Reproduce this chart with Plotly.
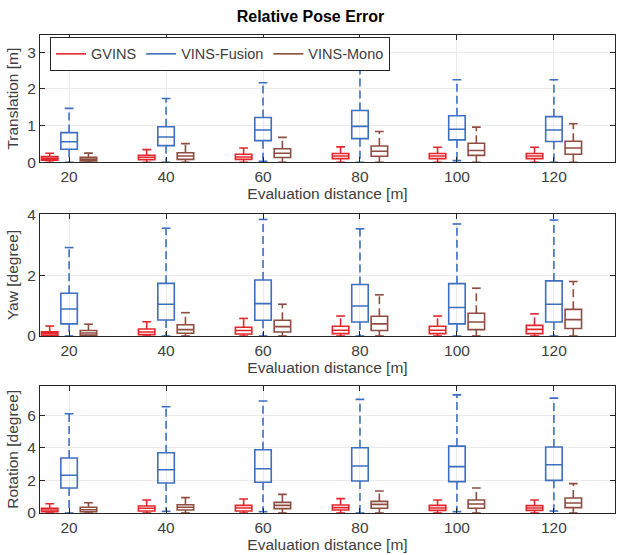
import plotly.graph_objects as go

distances = [20, 40, 60, 80, 100, 120]
methods = ["GVINS", "VINS-Fusion", "VINS-Mono"]
colors = {"GVINS": "#e3262b", "VINS-Fusion": "#3c6fc0", "VINS-Mono": "#8e4d40"}
offsets = {"GVINS": -4.0, "VINS-Fusion": 0.0, "VINS-Mono": 4.0}

# Translation [m]
trans_q1 = {"GVINS": [0.055, 0.07, 0.08, 0.10, 0.10, 0.10],
            "VINS-Fusion": [0.355, 0.455, 0.59, 0.645, 0.61, 0.565],
            "VINS-Mono": [0.035, 0.08, 0.13, 0.165, 0.19, 0.22]}
trans_med = {"GVINS": [0.10, 0.13, 0.145, 0.17, 0.17, 0.17],
             "VINS-Fusion": [0.56, 0.69, 0.88, 0.98, 0.90, 0.88],
             "VINS-Mono": [0.08, 0.17, 0.245, 0.30, 0.32, 0.39]}
trans_q3 = {"GVINS": [0.155, 0.19, 0.22, 0.24, 0.24, 0.24],
            "VINS-Fusion": [0.81, 0.97, 1.22, 1.41, 1.27, 1.245],
            "VINS-Mono": [0.135, 0.26, 0.37, 0.445, 0.52, 0.575]}
trans_lo = {"GVINS": [0.0, 0.0, 0.0, 0.0, 0.0, 0.0],
            "VINS-Fusion": [0.0, 0.0, 0.03, 0.0, 0.045, 0.0],
            "VINS-Mono": [0.0, 0.0, 0.0, 0.0, 0.0, 0.0]}
trans_hi = {"GVINS": [0.245, 0.345, 0.39, 0.42, 0.41, 0.41],
            "VINS-Fusion": [1.47, 1.74, 2.17, 2.53, 2.25, 2.25],
            "VINS-Mono": [0.25, 0.51, 0.68, 0.84, 0.96, 1.05]}

# Yaw [degree]
yaw_q1 = {"GVINS": [0.03, 0.045, 0.066, 0.08, 0.08, 0.08],
          "VINS-Fusion": [0.40, 0.53, 0.52, 0.46, 0.40, 0.46],
          "VINS-Mono": [0.03, 0.09, 0.13, 0.18, 0.21, 0.25]}
yaw_med = {"GVINS": [0.09, 0.13, 0.18, 0.19, 0.19, 0.22],
           "VINS-Fusion": [0.89, 1.05, 1.07, 0.99, 0.94, 1.05],
           "VINS-Mono": [0.10, 0.21, 0.31, 0.40, 0.46, 0.54]}
yaw_q3 = {"GVINS": [0.14, 0.23, 0.29, 0.32, 0.32, 0.35],
          "VINS-Fusion": [1.41, 1.74, 1.85, 1.70, 1.73, 1.82],
          "VINS-Mono": [0.18, 0.37, 0.52, 0.65, 0.75, 0.88]}
yaw_lo = {"GVINS": [0.0, 0.0, 0.0, 0.0, 0.0, 0.0],
          "VINS-Fusion": [0.0, 0.0, 0.0, 0.0, 0.0, 0.0],
          "VINS-Mono": [0.0, 0.0, 0.0, 0.0, 0.0, 0.0]}
yaw_hi = {"GVINS": [0.33, 0.47, 0.58, 0.66, 0.66, 0.73],
          "VINS-Fusion": [2.92, 3.56, 3.85, 3.54, 3.70, 3.83],
          "VINS-Mono": [0.39, 0.77, 1.05, 1.36, 1.58, 1.80]}

# Rotation [degree]
rot_q1 = {"GVINS": [0.08, 0.12, 0.12, 0.18, 0.16, 0.16],
          "VINS-Fusion": [1.53, 1.84, 1.88, 1.96, 1.92, 2.00],
          "VINS-Mono": [0.08, 0.18, 0.27, 0.29, 0.29, 0.33]}
rot_med = {"GVINS": [0.18, 0.29, 0.31, 0.33, 0.31, 0.31],
           "VINS-Fusion": [2.31, 2.65, 2.71, 2.88, 2.84, 2.96],
           "VINS-Mono": [0.20, 0.35, 0.47, 0.53, 0.55, 0.61]}
rot_q3 = {"GVINS": [0.29, 0.43, 0.47, 0.49, 0.47, 0.45],
          "VINS-Fusion": [3.37, 3.69, 3.88, 4.00, 4.10, 4.04],
          "VINS-Mono": [0.35, 0.51, 0.65, 0.71, 0.80, 0.92]}
rot_lo = {"GVINS": [0.0, 0.0, 0.0, 0.0, 0.0, 0.0],
          "VINS-Fusion": [0.0, 0.10, 0.08, 0.0, 0.08, 0.12],
          "VINS-Mono": [0.0, 0.0, 0.0, 0.0, 0.0, 0.0]}
rot_hi = {"GVINS": [0.57, 0.80, 0.86, 0.88, 0.80, 0.80],
          "VINS-Fusion": [6.08, 6.51, 6.86, 6.96, 7.24, 7.04],
          "VINS-Mono": [0.63, 0.94, 1.14, 1.35, 1.53, 1.80]}

panels = [
    ("Translation [m]", trans_q1, trans_med, trans_q3, trans_lo, trans_hi, [0, 1, 2, 3], [0, 3.47]),
    ("Yaw [degree]", yaw_q1, yaw_med, yaw_q3, yaw_lo, yaw_hi, [0, 2, 4], [0, 4.03]),
    ("Rotation [degree]", rot_q1, rot_med, rot_q3, rot_lo, rot_hi, [0, 2, 4, 6], [0, 7.8]),
]
x_title = "Evaluation distance [m]"
title_text = "Relative Pose Error"

BOX_W = 3.4
CAP_W = 1.8
LW = 1.6
FONT = "Liberation Sans, Arial, Helvetica, sans-serif"
FS = 15.5
TXT = "#404040"
AX = "#262626"
GRID = "#ebebeb"

fig = go.Figure()

H = 555
top_px, bot_px = 35, 513
span = bot_px - top_px
panel_px = [(35, 162.3), (214, 336), (385.7, 513)]
domains = [[1 - (b - top_px) / span, 1 - (t - top_px) / span] for t, b in panel_px]

for i, (ylab, q1, med, q3, lo, hi, yticks, yr) in enumerate(panels):
    xa = "x" if i == 0 else f"x{i+1}"
    ya = "y" if i == 0 else f"y{i+1}"
    for m in methods:
        pos = [d + offsets[m] for d in distances]
        c = colors[m]
        wx, wy = [], []
        for k, p in enumerate(pos):
            wx += [p, p, None, p, p, None]
            wy += [q3[m][k], hi[m][k], None, q1[m][k], lo[m][k], None]
        fig.add_trace(go.Scatter(x=wx, y=wy, mode="lines", xaxis=xa, yaxis=ya,
                                 line=dict(color=c, width=LW, dash="8px,4px"),
                                 showlegend=False, hoverinfo="skip"))
        cx, cy = [], []
        for k, p in enumerate(pos):
            for v in (hi[m][k], lo[m][k]):
                cx += [p - CAP_W / 2, p + CAP_W / 2, None]
                cy += [v, v, None]
        fig.add_trace(go.Scatter(x=cx, y=cy, mode="lines", xaxis=xa, yaxis=ya,
                                 line=dict(color=c, width=LW),
                                 showlegend=False, hoverinfo="skip"))
        fig.add_trace(go.Box(x=pos, q1=q1[m], median=med[m], q3=q3[m],
                             lowerfence=q1[m], upperfence=q3[m],
                             xaxis=xa, yaxis=ya, width=BOX_W, whiskerwidth=0,
                             line=dict(color=c, width=LW), fillcolor="rgba(0,0,0,0)",
                             boxpoints=False, showlegend=False, hoverinfo="skip"))

    axis_common = dict(showline=True, linecolor=AX, linewidth=1, mirror="ticks",
                       ticks="inside", ticklen=5, tickcolor=AX, showgrid=True,
                       gridcolor=GRID, gridwidth=1, zeroline=False,
                       tickfont=dict(family=FONT, size=FS, color=TXT))
    fig.update_layout(**{
        ("xaxis" if i == 0 else f"xaxis{i+1}"): dict(
            axis_common, range=[14, 132.6], tickvals=distances,
            ticktext=[str(d) for d in distances], anchor=ya,
            title=dict(text=x_title, font=dict(family=FONT, size=FS, color=TXT), standoff=2)),
        ("yaxis" if i == 0 else f"yaxis{i+1}"): dict(
            axis_common, range=yr, tickvals=yticks, domain=domains[i], anchor=xa,
            title=dict(text=ylab, font=dict(family=FONT, size=FS, color=TXT), standoff=4)),
    })

for m in methods:
    fig.add_trace(go.Scatter(x=[None], y=[None], mode="lines", name=m,
                             line=dict(color=colors[m], width=LW)))

fig.update_layout(
    width=621, height=555,
    margin=dict(l=40, r=6, t=top_px, b=H - bot_px),
    paper_bgcolor="white", plot_bgcolor="white",
    boxmode="overlay",
    title=dict(text=f"<b>{title_text}</b>", x=0.5, xanchor="center", y=1 - 16 / H,
               yanchor="middle", font=dict(family=FONT, size=16, color="#000000")),
    legend=dict(orientation="h", x=0.0174, y=0.996, xanchor="left", yanchor="top",
                bgcolor="white", bordercolor=AX, borderwidth=1,
                font=dict(family=FONT, size=14.5, color=TXT),
                itemwidth=30, tracegroupgap=0),
    showlegend=True,
)

fig.write_html("out.html", config={"displayModeBar": False},
               post_script="document.body.style.margin='0';")
